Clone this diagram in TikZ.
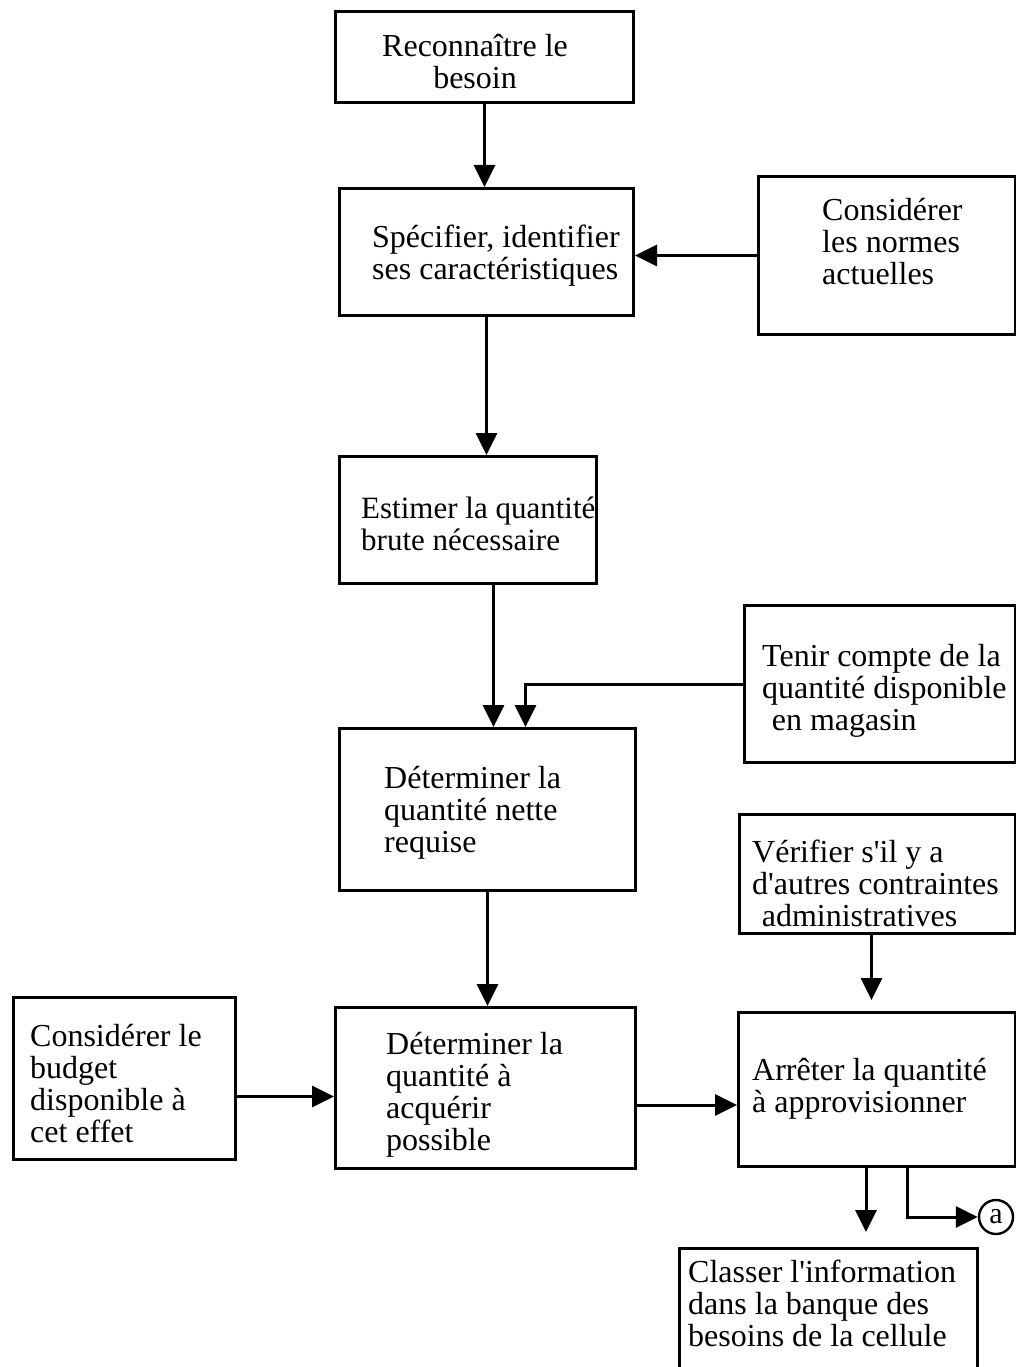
\documentclass[tikz,border=0pt]{standalone}
\usepackage{fontspec}
\setmainfont{Liberation Serif}
\usetikzlibrary{arrows.meta}
\begin{document}
\begin{tikzpicture}[x=1pt,y=-1pt,
  box/.style={draw, line width=3pt, inner sep=0pt, anchor=north west},
  txt/.style={anchor=north west, inner sep=0pt, align=left,
              font=\fontsize{32}{32}\selectfont},
  arr/.style={line width=3pt, -{Triangle[length=22pt,width=21pt]}}]
\useasboundingbox (0,0) rectangle (1016,1367);

% boxes
\node[box, minimum width=298pt, minimum height=91pt]  (b1)      at (334,10)   {};
\node[box, minimum width=294pt, minimum height=127pt] (b2)      at (338,187)  {};
\node[box, minimum width=257pt, minimum height=158pt] (normes)  at (757,175)  {};
\node[box, minimum width=257pt, minimum height=127pt] (estimer) at (338,455)  {};
\node[box, minimum width=271pt, minimum height=157pt] (tenir)   at (743,604)  {};
\node[box, minimum width=296pt, minimum height=162pt] (nette)   at (338,727)  {};
\node[box, minimum width=276pt, minimum height=119pt] (verif)   at (738,813)  {};
\node[box, minimum width=222pt, minimum height=162pt] (budget)  at (12,996)   {};
\node[box, minimum width=300pt, minimum height=161pt] (acq)     at (334,1006) {};
\node[box, minimum width=277pt, minimum height=154pt] (arret)   at (737,1011) {};
\node[box, minimum width=298pt, minimum height=140pt] (classer) at (678,1247) {};

% texts
\newcommand\topstrut{\rule{0pt}{24pt}}
\newcommand\apos{\textquotesingle}
\node[txt, align=center] (t1) at (382,32) {\topstrut Reconnaître le\\besoin};
\node[txt] (t2) at (372,223) {\topstrut Spécifier, identifier\\ses caractéristiques};
\node[txt] (t3) at (822,196) {\topstrut Considérer\\les normes\\actuelles};
\node[txt, font=\fontsize{31}{32}\selectfont] (t4) at (361,494) {\topstrut Estimer la quantité\\brute nécessaire};
\node[txt] (t5) at (762,642) {\topstrut Tenir compte de la\\quantité disponible\\\hspace{0.3em}en magasin};
\node[txt] (t6) at (384,764) {\topstrut Déterminer la\\quantité nette\\requise};
\node[txt] (t7) at (752,838) {\topstrut Vérifier s\apos il y a\\d\apos autres contraintes\\\hspace{0.3em}administratives};
\node[txt] (t8) at (30,1022) {\topstrut Considérer le\\budget\\disponible à\\cet effet};
\node[txt] (t9) at (386,1030) {\topstrut Déterminer la\\quantité à\\acquérir\\possible};
\node[txt] (t10) at (752,1056) {\topstrut Arrêter la quantité\\à approvisionner};
\node[txt] (t11) at (688,1258) {\topstrut Classer l\apos information\\dans la banque des\\besoins de la cellule};

% connector end
\node[draw, circle, line width=2.4pt, minimum size=34pt, inner sep=0pt,
      font=\fontsize{30}{30}\selectfont] (ca) at (996,1217) {a};

% connectors
\draw[arr] (b1.south) -- (b1.south |- b2.north);
\draw[arr] (normes.west) -- (normes.west -| b2.east);
\draw[arr] (b2.south) -- (b2.south |- estimer.north);
\draw[arr] ([xshift=6pt]nette.north |- estimer.south) -- ([xshift=6pt]nette.north);
\draw[arr] (tenir.west) -| ([xshift=38pt]nette.north);
\draw[arr] (nette.south) -- (nette.south |- acq.north);
\draw[arr, shorten >=11pt] ([xshift=-6pt]verif.south) -- ([xshift=-6pt]verif.south |- arret.north);
\draw[arr] ([yshift=-18pt]budget.east) -- ([yshift=-18pt]budget.east -| acq.west);
\draw[arr] ([yshift=-17pt]acq.east) -- ([yshift=-17pt]acq.east -| arret.west);
\draw[arr, shorten >=15pt] ([xshift=-11pt]arret.south) -- ([xshift=-11pt]arret.south |- classer.north);
\draw[arr] ([xshift=30pt]arret.south) |- (ca.west);
\end{tikzpicture}
\end{document}
